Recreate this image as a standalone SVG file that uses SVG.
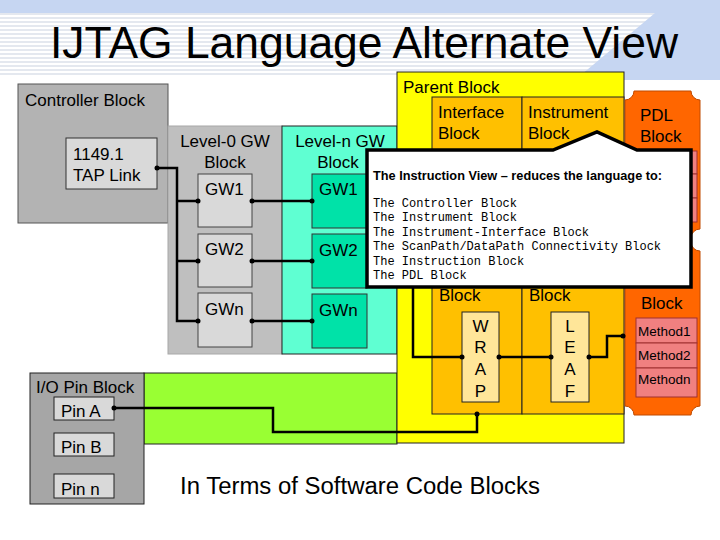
<svg xmlns="http://www.w3.org/2000/svg" width="720" height="540" viewBox="0 0 720 540">
<defs>
  <pattern id="stripes" x="0" y="13" width="8" height="4" patternUnits="userSpaceOnUse">
    <rect x="0" y="0" width="8" height="4" fill="#ffffff"/>
    <rect x="0" y="0" width="8" height="2" fill="#e4e8ef"/>
  </pattern>
  <style>
    text { font-family: "Liberation Sans", Arial, sans-serif; fill: #000; }
    .lbl { font-size: 17px; }
    .mono { font-family: "Liberation Mono", "Courier New", monospace; font-size: 12px; }
    .meth { font-size: 13.5px; }
    .ltr { font-size: 17px; text-anchor: middle; }
    .wire { fill: none; stroke: #000; stroke-width: 2.5; stroke-linejoin: miter; }
    .dot { fill: #000; }
    .thin { stroke: #000; stroke-width: 1; }
  </style>
</defs>
<rect x="0" y="0" width="720" height="540" fill="#ffffff"/>
<g id="title-bg">
  <rect x="0" y="0" width="720" height="13" fill="#c6d6f2"/>
  <rect x="0" y="13" width="720" height="62" fill="url(#stripes)"/>
  <polygon points="655,13 720,13 720,80 575,80" fill="#c6d6f2"/>
</g>
<text id="title" x="364" y="58" font-size="45" text-anchor="middle" textLength="628" lengthAdjust="spacingAndGlyphs">IJTAG Language Alternate View</text>

<g id="controller-block">
  <rect x="18" y="84" width="150" height="139" fill="#b3b3b3" stroke="#555" stroke-width="1"/>
  <text class="lbl" x="25" y="106">Controller Block</text>
</g>
<g id="tap-link">
  <rect x="66" y="138" width="91" height="51" fill="#d9d9d9" stroke="#333" stroke-width="1"/>
  <text class="lbl" x="73" y="160">1149.1</text>
  <text class="lbl" x="73" y="181">TAP Link</text>
</g>

<g id="level0-gw-block">
  <rect x="168" y="126" width="114" height="228" fill="#bfbfbf" stroke="#a8a8a8" stroke-width="1"/>
  <text class="lbl" x="225" y="147" text-anchor="middle">Level-0 GW</text>
  <text class="lbl" x="225" y="168" text-anchor="middle">Block</text>
</g>
<g id="l0-gw1"><rect x="198" y="174" width="54" height="53" fill="#d9d9d9" stroke="#444" stroke-width="1"/><text class="lbl" x="205" y="195">GW1</text></g>
<g id="l0-gw2"><rect x="198" y="234" width="54" height="53" fill="#d9d9d9" stroke="#444" stroke-width="1"/><text class="lbl" x="205" y="255">GW2</text></g>
<g id="l0-gwn"><rect x="198" y="293" width="54" height="54" fill="#d9d9d9" stroke="#444" stroke-width="1"/><text class="lbl" x="205" y="315">GWn</text></g>

<g id="leveln-gw-block">
  <rect x="282" y="126" width="115" height="228" fill="#5fffd2" stroke="#222" stroke-width="1"/>
  <text class="lbl" x="340" y="147" text-anchor="middle">Level-n GW</text>
  <text class="lbl" x="338" y="168" text-anchor="middle">Block</text>
</g>
<g id="ln-gw1"><rect x="312" y="174" width="55" height="54" fill="#00e2a8" stroke="#333" stroke-width="1"/><text class="lbl" x="319" y="195">GW1</text></g>
<g id="ln-gw2"><rect x="312" y="234" width="55" height="54" fill="#00e2a8" stroke="#333" stroke-width="1"/><text class="lbl" x="319" y="256">GW2</text></g>
<g id="ln-gwn"><rect x="312" y="294" width="55" height="54" fill="#00e2a8" stroke="#333" stroke-width="1"/><text class="lbl" x="319" y="316">GWn</text></g>

<g id="green-band">
  <rect x="144" y="373" width="253" height="71" fill="#99ff33" stroke="#222" stroke-width="1"/>
</g>
<g id="io-pin-block">
  <rect x="30" y="373" width="114" height="131" fill="#a6a6a6" stroke="#222" stroke-width="1"/>
  <text class="lbl" x="36" y="393">I/O Pin Block</text>
</g>
<g id="pin-a"><rect x="54" y="397" width="60" height="23" fill="#d9d9d9" stroke="#222" stroke-width="1"/><text class="lbl" x="61" y="417">Pin A</text></g>
<g id="pin-b"><rect x="54" y="433" width="60" height="23" fill="#d9d9d9" stroke="#222" stroke-width="1"/><text class="lbl" x="61" y="453">Pin B</text></g>
<g id="pin-n"><rect x="54" y="474" width="60" height="24" fill="#d9d9d9" stroke="#222" stroke-width="1"/><text class="lbl" x="61" y="495">Pin n</text></g>

<g id="parent-block">
  <rect x="397" y="72" width="227" height="371" fill="#ffff00" stroke="#222" stroke-width="1"/>
  <text class="lbl" x="403" y="93">Parent Block</text>
</g>
<g id="interface-block">
  <rect x="432" y="97" width="90" height="317" fill="#ffc000" stroke="#222" stroke-width="1"/>
  <text class="lbl" x="438" y="118">Interface</text>
  <text class="lbl" x="438" y="139">Block</text>
  <text class="lbl" x="439" y="301">Block</text>
</g>
<g id="instrument-block">
  <rect x="522" y="97" width="102" height="317" fill="#ffc000" stroke="#222" stroke-width="1"/>
  <text class="lbl" x="528" y="118">Instrument</text>
  <text class="lbl" x="528" y="139">Block</text>
  <text class="lbl" x="529" y="301">Block</text>
</g>
<g id="wrap">
  <rect x="462" y="312" width="37" height="90" fill="#ffe699" stroke="#222" stroke-width="1"/>
  <text class="ltr" x="480.5" y="332">W</text>
  <text class="ltr" x="480.5" y="353">R</text>
  <text class="ltr" x="480.5" y="375">A</text>
  <text class="ltr" x="480.5" y="397">P</text>
</g>
<g id="leaf">
  <rect x="551" y="312" width="38" height="90" fill="#ffe699" stroke="#222" stroke-width="1"/>
  <text class="ltr" x="570" y="332">L</text>
  <text class="ltr" x="570" y="353">E</text>
  <text class="ltr" x="570" y="375">A</text>
  <text class="ltr" x="570" y="397">F</text>
</g>

<g id="pdl-block-1">
  <path d="M634,91 H691 A9,9 0 0 0 700,100 V229 A9,9 0 0 0 691,238 H634 A9,9 0 0 0 625,229 V100 A9,9 0 0 0 634,91 Z" fill="#ff6600" stroke="#c04a00" stroke-width="1"/>
  <text class="lbl" x="640" y="121">PDL</text>
  <text class="lbl" x="640" y="142">Block</text>
  <rect x="636" y="151" width="61" height="23" fill="#f08080" stroke="#a03030" stroke-width="1"/>
  <rect x="636" y="174" width="61" height="24" fill="#f08080" stroke="#a03030" stroke-width="1"/>
  <rect x="636" y="198" width="61" height="24" fill="#f08080" stroke="#a03030" stroke-width="1"/>
</g>
<g id="pdl-block-2">
  <path d="M634,242 H691 A9,9 0 0 0 700,251 V406 A9,9 0 0 0 691,415 H634 A9,9 0 0 0 625,406 V251 A9,9 0 0 0 634,242 Z" fill="#ff6600" stroke="#c04a00" stroke-width="1"/>
  <text class="lbl" x="641" y="309">Block</text>
  <rect x="636" y="318" width="61" height="25" fill="#f08080" stroke="#a03030" stroke-width="1"/>
  <rect x="636" y="343" width="61" height="25" fill="#f08080" stroke="#a03030" stroke-width="1"/>
  <rect x="636" y="368" width="61" height="29" fill="#f08080" stroke="#a03030" stroke-width="1"/>
  <text class="meth" x="638" y="336">Method1</text>
  <text class="meth" x="638" y="360">Method2</text>
  <text class="meth" x="638" y="384">Methodn</text>
</g>

<g id="connectors">
  <polyline class="wire" points="157,168 177,168 177,321 198,321"/>
  <polyline class="wire" points="177,201 198,201"/>
  <polyline class="wire" points="177,261 198,261"/>
  <polyline class="wire" points="252,201 312,201"/>
  <polyline class="wire" points="252,261 312,261"/>
  <polyline class="wire" points="252,321 312,321"/>
  <polyline class="wire" points="413,280 413,357 462,357"/>
  <polyline class="wire" points="499,357 551,357"/>
  <polyline class="wire" points="589,357 607,357 607,336 623,336"/>
  <polyline class="wire" points="114,408 273,408 273,432 477,432 477,414"/>
  <circle class="dot" cx="157" cy="168" r="2.5"/>
  <circle class="dot" cx="198" cy="201" r="2.5"/>
  <circle class="dot" cx="198" cy="261" r="2.5"/>
  <circle class="dot" cx="198" cy="321" r="2.5"/>
  <circle class="dot" cx="252" cy="201" r="2.5"/>
  <circle class="dot" cx="252" cy="261" r="2.5"/>
  <circle class="dot" cx="252" cy="321" r="2.5"/>
  <circle class="dot" cx="312" cy="201" r="2.5"/>
  <circle class="dot" cx="312" cy="261" r="2.5"/>
  <circle class="dot" cx="312" cy="321" r="2.5"/>
  <circle class="dot" cx="462" cy="357" r="2.5"/>
  <circle class="dot" cx="499" cy="357" r="2.5"/>
  <circle class="dot" cx="551" cy="357" r="2.5"/>
  <circle class="dot" cx="589" cy="357" r="2.5"/>
  <circle class="dot" cx="623" cy="336" r="2.5"/>
  <circle class="dot" cx="114" cy="408" r="2.5"/>
  <circle class="dot" cx="477" cy="414" r="2.5"/>
</g>

<g id="instruction-view-callout">
  <polygon points="367,150 553,150 597,132 637,150 691,150 691,287 367,287" fill="#ffffff" stroke="#000" stroke-width="3.5" stroke-linejoin="miter"/>
  <text x="373" y="180" font-size="12" font-weight="bold" textLength="289" lengthAdjust="spacingAndGlyphs">The Instruction View – reduces the language to:</text>
  <text class="mono" x="373" y="207">The Controller Block</text>
  <text class="mono" x="373" y="221">The Instrument Block</text>
  <text class="mono" x="373" y="236">The Instrument-Interface Block</text>
  <text class="mono" x="373" y="250">The ScanPath/DataPath Connectivity Block</text>
  <text class="mono" x="373" y="265">The Instruction Block</text>
  <text class="mono" x="373" y="279">The PDL Block</text>
</g>

<text id="caption" x="180" y="494" font-size="23" textLength="360" lengthAdjust="spacingAndGlyphs">In Terms of Software Code Blocks</text>
</svg>
